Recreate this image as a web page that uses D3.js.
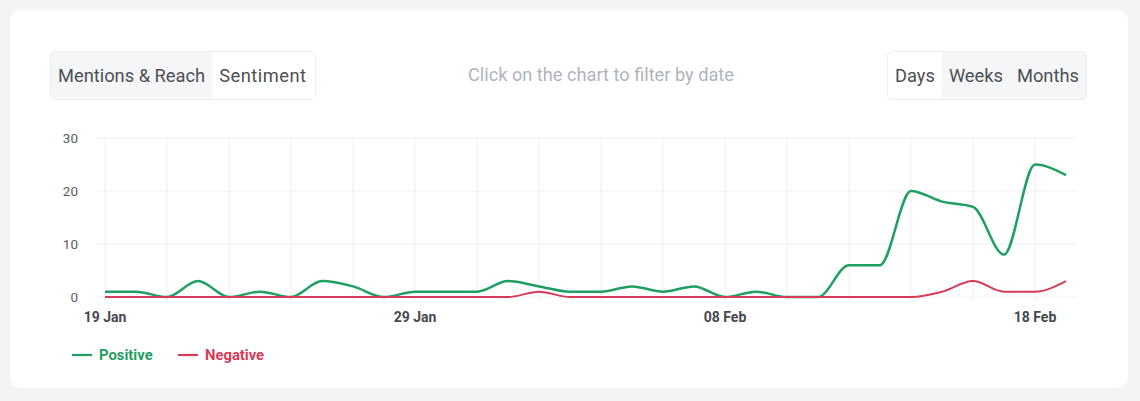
<!DOCTYPE html>
<html>
<head>
<meta charset="utf-8">
<script src="https://cdn.jsdelivr.net/npm/d3@7"></script>
<style>
  body { margin: 0; background: #f3f4f6; font-family: Roboto, "Noto Sans", sans-serif; }
  #card { position: absolute; left: 10px; top: 10px; width: 1118px; height: 378px; background: #fff; border-radius: 10px; }
  .btns { position: absolute; top: 51px; height: 47px; display: flex; border: 1px solid #eceef1; border-radius: 5px; overflow: hidden; background: #f5f6f8; }
  .btns div { padding: 0 7px; line-height: 47px; font-size: 18.3px; color: #4d4f53; }
  .btns div.on { background: #fff; }
  #hint { position: absolute; top: 64px; left: 468px; font-size: 18.2px; color: #b0b4ba; }
</style>
</head>
<body>
<div id="card"></div>
<div class="btns" style="left:50px;"><div>Mentions &amp; Reach</div><div class="on" style="letter-spacing:0.5px;padding-right:8px;">Sentiment</div></div>
<div id="hint">Click on the chart to filter by date</div>
<div class="btns" style="left:887px;"><div class="on">Days</div><div>Weeks</div><div>Months</div></div>
<svg id="chart" width="1140" height="401" style="position:absolute;left:0;top:0;"></svg>
<script>
// daily values, 19 Jan .. 19 Feb
var startDay = new Date(2024, 0, 19);
var positive = [1,1,0,3,0,1,0,3,2,0,1,1,1,3,2,1,1,2,1,2,0,1,0,0,6,6,20,18,17,8,25,23];
var negative = [0,0,0,0,0,0,0,0,0,0,0,0,0,0,1,0,0,0,0,0,0,0,0,0,0,0,0,1,3,1,1,3];
var yTicks = [0,10,20,30];
var xLabels = ["19 Jan","29 Jan","08 Feb","18 Feb"];

var days = positive.map(function(d, i) { return d3.timeDay.offset(startDay, i); });

var svg = d3.select("#chart");
var x = d3.scaleTime().domain([days[0], days[days.length - 1]]).range([105, 1066]);
var y = d3.scaleLinear().domain([0, 30]).range([297, 138]);

// grid, every second day
var gridDays = d3.timeDay.range(days[0], days[days.length-1], 2);
svg.append("g").selectAll("line").data(gridDays).enter().append("line")
  .attr("x1", function(d){ return x(d); }).attr("x2", function(d){ return x(d); })
  .attr("y1", 138).attr("y2", 302)
  .attr("stroke", "#eeeff1").attr("stroke-width", 1);
svg.append("g").selectAll("line").data(yTicks).enter().append("line")
  .attr("x1", 96).attr("x2", 1077)
  .attr("y1", function(d){ return y(d); }).attr("y2", function(d){ return y(d); })
  .attr("stroke", "#eeeff1").attr("stroke-width", 1);

svg.append("g").selectAll("text").data(yTicks).enter().append("text")
  .attr("x", 78).attr("y", function(d){ return y(d) + 5; })
  .attr("text-anchor", "end").attr("font-size", 13.5).attr("fill", "#5a5d62")
  .text(function(d){ return d; });

var fmt = d3.timeFormat("%d %b");
svg.append("g").selectAll("text").data(xLabels).enter().append("text")
  .attr("x", function(d){ return x(days.find(function(t){ return fmt(t) == d; })); })
  .attr("y", 322).attr("text-anchor", "middle")
  .attr("font-size", 14).attr("font-weight", "bold").attr("fill", "#45484c")
  .text(function(d){ return d; });

var green = "#1f9f62", red = "#d63c58";
var line = d3.line().curve(d3.curveMonotoneX)
  .x(function(d, i){ return x(days[i]); })
  .y(function(d){ return y(d); });

svg.append("path").datum(positive).attr("d", line)
  .attr("fill", "none").attr("stroke", green).attr("stroke-width", 2.5);
svg.append("path").datum(negative).attr("d", line)
  .attr("fill", "none").attr("stroke", red).attr("stroke-width", 2);

// legend
var legend = [{name: "Positive", color: green, x: 72}, {name: "Negative", color: red, x: 178}];
var lg = svg.append("g").selectAll("g").data(legend).enter().append("g");
lg.append("line").attr("x1", function(d){ return d.x; }).attr("x2", function(d){ return d.x + 20; })
  .attr("y1", 355).attr("y2", 355).attr("stroke", function(d){ return d.color; }).attr("stroke-width", 2.2);
lg.append("text").attr("x", function(d){ return d.x + 27; }).attr("y", 360)
  .attr("font-size", 14.8).attr("font-weight", "bold").attr("fill", function(d){ return d.color; })
  .text(function(d){ return d.name; });
</script>
</body>
</html>
